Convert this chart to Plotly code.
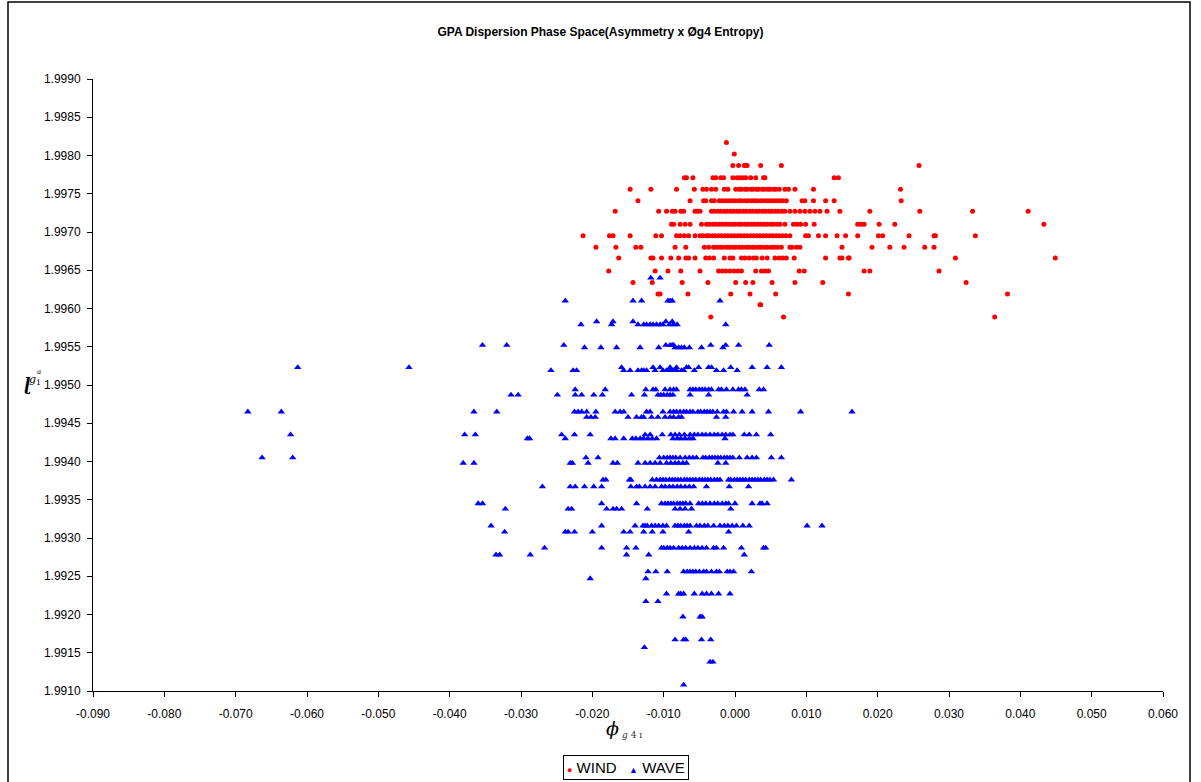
import plotly.graph_objects as go

# ---------------- data ----------------
wind_levels = [1.99817, 1.99802, 1.99787, 1.99771, 1.99756, 1.99741, 1.99727, 1.99710,
               1.99695, 1.99680, 1.99666, 1.99649, 1.99634, 1.99619, 1.99605, 1.99589]
wind_x_rows = [
    [-0.0012],
    [-0.0001],
    [-0.0003, 0.0005, 0.0013, 0.0015, 0.0017, 0.0036, 0.0065, 0.0258],
    [-0.0071, -0.0068, -0.0059, -0.0031, -0.0027, -0.0020, -0.0016, -0.0003, 0.0003, 0.0007,
     0.0011, 0.0015, 0.0022, 0.0029, 0.0040, 0.0042, 0.0139, 0.0145],
    [-0.0147, -0.0118, -0.0082, -0.0057, -0.0045, -0.0040, -0.0033, -0.0027, -0.0015, -0.0010,
     0.0001, 0.0006, 0.0009, 0.0014, 0.0017, 0.0022, 0.0025, 0.0030, 0.0033, 0.0038, 0.0041,
     0.0046, 0.0049, 0.0054, 0.0057, 0.0062, 0.0070, 0.0075, 0.0084, 0.0110, 0.0232],
    [-0.0136, -0.0063, -0.0044, -0.0041, -0.0033, -0.0029, -0.0022, -0.0018, -0.0013, -0.0009,
     -0.0004, 0.0000, 0.0005, 0.0009, 0.0014, 0.0018, 0.0023, 0.0027, 0.0031, 0.0036, 0.0040,
     0.0045, 0.0049, 0.0054, 0.0058, 0.0063, 0.0067, 0.0072, 0.0094, 0.0098, 0.0110, 0.0127,
     0.0139, 0.0233],
    [-0.0168, -0.0107, -0.0096, -0.0088, -0.0084, -0.0076, -0.0072, -0.0056, -0.0053, -0.0049,
     -0.0033, -0.0029, -0.0024, -0.0020, -0.0015, -0.0011, -0.0006, -0.0002, 0.0003, 0.0007,
     0.0012, 0.0016, 0.0021, 0.0025, 0.0030, 0.0034, 0.0039, 0.0043, 0.0048, 0.0052, 0.0057,
     0.0061, 0.0066, 0.0070, 0.0077, 0.0084, 0.0091, 0.0098, 0.0105, 0.0112, 0.0119, 0.0129,
     0.0147, 0.0189, 0.0259, 0.0333, 0.0411],
    [-0.0089, -0.0086, -0.0077, -0.0070, -0.0063, -0.0047, -0.0040, -0.0036, -0.0031, -0.0027,
     -0.0022, -0.0018, -0.0013, -0.0009, -0.0004, 0.0000, 0.0005, 0.0009, 0.0014, 0.0018,
     0.0023, 0.0027, 0.0032, 0.0036, 0.0041, 0.0045, 0.0050, 0.0054, 0.0059, 0.0063, 0.0070,
     0.0082, 0.0087, 0.0092, 0.0099, 0.0111, 0.0172, 0.0177, 0.0181, 0.0202, 0.0224, 0.0433],
    [-0.0213, -0.0176, -0.0171, -0.0147, -0.0111, -0.0103, -0.0082, -0.0077, -0.0071, -0.0065,
     -0.0056, -0.0049, -0.0045, -0.0040, -0.0037, -0.0032, -0.0028, -0.0023, -0.0019, -0.0014,
     -0.0010, -0.0005, -0.0001, 0.0004, 0.0008, 0.0013, 0.0017, 0.0022, 0.0026, 0.0031, 0.0035,
     0.0040, 0.0044, 0.0049, 0.0053, 0.0058, 0.0062, 0.0067, 0.0071, 0.0077, 0.0099, 0.0103,
     0.0117, 0.0127, 0.0143, 0.0155, 0.0172, 0.0201, 0.0207, 0.0244, 0.0279, 0.0281, 0.0337],
    [-0.0195, -0.0167, -0.0139, -0.0132, -0.0084, -0.0069, -0.0043, -0.0037, -0.0030, -0.0026,
     -0.0021, -0.0017, -0.0012, -0.0008, -0.0003, 0.0001, 0.0006, 0.0010, 0.0015, 0.0019,
     0.0024, 0.0028, 0.0033, 0.0037, 0.0042, 0.0046, 0.0051, 0.0055, 0.0060, 0.0065, 0.0077,
     0.0080, 0.0086, 0.0091, 0.0150, 0.0192, 0.0217, 0.0237, 0.0266, 0.0279],
    [-0.0163, -0.0118, -0.0115, -0.0103, -0.0090, -0.0079, -0.0069, -0.0065, -0.0056, -0.0041,
     -0.0036, -0.0030, -0.0015, -0.0007, -0.0003, 0.0009, 0.0014, 0.0020, 0.0026, 0.0030,
     0.0038, 0.0045, 0.0056, 0.0062, 0.0067, 0.0072, 0.0083, 0.0127, 0.0147, 0.0150, 0.0159,
     0.0160, 0.0309, 0.0449],
    [-0.0177, -0.0112, -0.0094, -0.0076, -0.0049, -0.0023, -0.0018, -0.0013, -0.0007, -0.0001,
     0.0004, 0.0009, 0.0029, 0.0037, 0.0042, 0.0047, 0.0090, 0.0097, 0.0181, 0.0189, 0.0286],
    [-0.0143, -0.0116, -0.0074, -0.0038, 0.0001, 0.0015, 0.0025, 0.0052, 0.0084, 0.0123, 0.0324],
    [-0.0108, -0.0105, -0.0066, -0.0006, 0.0021, 0.0057, 0.0159, 0.0382],
    [0.0035, 0.0036],
    [-0.0034, 0.0068, 0.0364],
]

wave_levels = [1.99640, 1.99610, 1.99583, 1.99579, 1.99552, 1.99549, 1.99523, 1.99519,
               1.99494, 1.99487, 1.99465, 1.99458, 1.99435, 1.99430, 1.99405, 1.99398,
               1.99376, 1.99367, 1.99345, 1.99338, 1.99316, 1.99308, 1.99287, 1.99278,
               1.99256, 1.99247, 1.99227, 1.99217, 1.99197, 1.99167, 1.99157, 1.99138, 1.99108]
wave_x_rows = [
    [-0.0118, -0.0105],
    [-0.0238, -0.0143, -0.0131, -0.0094, -0.0091, -0.0088, -0.0021],
    [-0.0194, -0.0171, -0.0143, -0.0097, -0.0088],
    [-0.0216, -0.0173, -0.0136, -0.0128, -0.0124, -0.0119, -0.0115, -0.0110, -0.0105, -0.0101,
     -0.0092, -0.0086, -0.0081, -0.0013],
    [-0.0354, -0.0320, -0.0240, -0.0097, -0.0091, -0.0088, -0.0086, -0.0034, -0.0013, 0.0005,
     0.0048],
    [-0.0211, -0.0188, -0.0166, -0.0133, -0.0107, -0.0084, -0.0079, -0.0075, -0.0071, -0.0064,
     -0.0047, -0.0017],
    [-0.0613, -0.0457, -0.0159, -0.0115, -0.0105, -0.0091, -0.0082, -0.0068, -0.0065, -0.0051,
     -0.0037, -0.0033, -0.0006, 0.0024, 0.0045, 0.0065],
    [-0.0258, -0.0227, -0.0222, -0.0156, -0.0147, -0.0136, -0.0131, -0.0128, -0.0124, -0.0112,
     -0.0101, -0.0096, -0.0091, -0.0086, -0.0082, -0.0075, -0.0072, -0.0057, -0.0026, -0.0016,
     0.0003],
    [-0.0224, -0.0182, -0.0125, -0.0115, -0.0111, -0.0098, -0.0091, -0.0086, -0.0082, -0.0063,
     -0.0059, -0.0055, -0.0050, -0.0046, -0.0042, -0.0037, -0.0033, -0.0023, -0.0019, -0.0012,
     -0.0003, 0.0005, 0.0009, 0.0014, 0.0034, 0.0040],
    [-0.0314, -0.0304, -0.0249, -0.0224, -0.0215, -0.0198, -0.0186, -0.0145, -0.0127, -0.0108,
     -0.0104, -0.0100, -0.0095, -0.0091, -0.0087, -0.0063, -0.0037, 0.0017],
    [-0.0683, -0.0636, -0.0366, -0.0334, -0.0225, -0.0220, -0.0215, -0.0208, -0.0195, -0.0168,
     -0.0161, -0.0156, -0.0124, -0.0119, -0.0101, -0.0091, -0.0086, -0.0082, -0.0077, -0.0072,
     -0.0068, -0.0063, -0.0059, -0.0052, -0.0048, -0.0043, -0.0039, -0.0035, -0.0031, -0.0025,
     -0.0016, -0.0012, -0.0002, 0.0010, 0.0024, 0.0047, 0.0092, 0.0164],
    [-0.0208, -0.0202, -0.0196, -0.0150, -0.0138, -0.0131, -0.0128, -0.0117, -0.0108, -0.0098,
     -0.0091, -0.0086, -0.0079, -0.0075, -0.0026, -0.0013],
    [-0.0623, -0.0379, -0.0364, -0.0243, -0.0225, -0.0203, -0.0126, -0.0119, -0.0102, -0.0090,
     -0.0084, -0.0078, -0.0071, -0.0063, -0.0057, -0.0052, -0.0046, -0.0041, -0.0035, -0.0029,
     -0.0024, -0.0018, -0.0013, -0.0007, -0.0003, 0.0013, 0.0020, 0.0030, 0.0050],
    [-0.0291, -0.0288, -0.0238, -0.0174, -0.0168, -0.0156, -0.0144, -0.0139, -0.0133, -0.0128,
     -0.0122, -0.0116, -0.0110, -0.0087, -0.0081, -0.0076, -0.0070, -0.0064, -0.0059, -0.0014],
    [-0.0663, -0.0620, -0.0209, -0.0192, -0.0106, -0.0100, -0.0095, -0.0091, -0.0087, -0.0083,
     -0.0077, -0.0070, -0.0064, -0.0059, -0.0054, -0.0045, -0.0041, -0.0036, -0.0032, -0.0028,
     -0.0024, -0.0020, -0.0015, -0.0011, -0.0007, -0.0003, 0.0006, 0.0017, 0.0024, 0.0030,
     0.0051, 0.0065],
    [-0.0381, -0.0366, -0.0231, -0.0228, -0.0206, -0.0171, -0.0165, -0.0136, -0.0126, -0.0119,
     -0.0112, -0.0105, -0.0096, -0.0090, -0.0084, -0.0079, -0.0073, -0.0068, -0.0024, -0.0013],
    [-0.0185, -0.0181, -0.0148, -0.0146, -0.0116, -0.0110, -0.0105, -0.0101, -0.0097, -0.0092,
     -0.0088, -0.0084, -0.0080, -0.0076, -0.0071, -0.0067, -0.0063, -0.0059, -0.0055, -0.0050,
     -0.0046, -0.0042, -0.0038, -0.0034, -0.0029, -0.0025, -0.0021, -0.0009, -0.0006, -0.0001,
     0.0003, 0.0007, 0.0011, 0.0015, 0.0020, 0.0024, 0.0028, 0.0032, 0.0036, 0.0041, 0.0045,
     0.0049, 0.0054, 0.0079],
    [-0.0270, -0.0231, -0.0224, -0.0211, -0.0198, -0.0187, -0.0146, -0.0138, -0.0134, -0.0126,
     -0.0119, -0.0112, -0.0103, -0.0098, -0.0092, -0.0087, -0.0081, -0.0076, -0.0070, -0.0064,
     -0.0058, -0.0040, -0.0008, 0.0019],
    [-0.0360, -0.0354, -0.0187, -0.0138, -0.0103, -0.0098, -0.0094, -0.0090, -0.0086, -0.0081,
     -0.0077, -0.0073, -0.0069, -0.0063, -0.0051, -0.0046, -0.0041, -0.0035, -0.0029, -0.0024,
     -0.0018, -0.0013, -0.0009, 0.0000, 0.0024, 0.0035, 0.0038, 0.0045],
    [-0.0322, -0.0234, -0.0229, -0.0180, -0.0171, -0.0166, -0.0159, -0.0123, -0.0084, -0.0077,
     -0.0070, -0.0061, -0.0006],
    [-0.0342, -0.0187, -0.0140, -0.0129, -0.0126, -0.0123, -0.0117, -0.0112, -0.0107, -0.0101,
     -0.0096, -0.0084, -0.0080, -0.0076, -0.0071, -0.0067, -0.0063, -0.0054, -0.0049, -0.0043,
     -0.0038, -0.0030, -0.0021, -0.0015, -0.0010, -0.0004, 0.0002, 0.0011, 0.0020, 0.0101,
     0.0122],
    [-0.0323, -0.0238, -0.0234, -0.0225, -0.0200, -0.0156, -0.0147, -0.0128, -0.0116, -0.0101,
     -0.0065, -0.0009],
    [-0.0267, -0.0187, -0.0152, -0.0139, -0.0103, -0.0100, -0.0095, -0.0091, -0.0086, -0.0079,
     -0.0074, -0.0069, -0.0063, -0.0057, -0.0052, -0.0046, -0.0040, -0.0030, -0.0026, -0.0016,
     0.0009, 0.0040, 0.0043],
    [-0.0335, -0.0330, -0.0287, -0.0152, -0.0121, 0.0013],
    [-0.0122, -0.0111, -0.0095, -0.0072, -0.0067, -0.0063, -0.0059, -0.0055, -0.0050, -0.0044,
     -0.0040, -0.0033, -0.0026, -0.0022, -0.0011, -0.0007, -0.0002, 0.0023],
    [-0.0203, -0.0125],
    [-0.0096, -0.0079, -0.0076, -0.0072, -0.0057, -0.0046, -0.0040, -0.0033, -0.0023, -0.0007],
    [-0.0125, -0.0108],
    [-0.0073, -0.0049, -0.0046],
    [-0.0084, -0.0072, -0.0069, -0.0047, -0.0034],
    [-0.0127],
    [-0.0035, -0.0031],
    [-0.0072],
]

x_tick_vals = [-0.09, -0.08, -0.07, -0.06, -0.05, -0.04, -0.03, -0.02, -0.01,
               0.0, 0.01, 0.02, 0.03, 0.04, 0.05, 0.06]
x_tick_text = ["-0.090", "-0.080", "-0.070", "-0.060", "-0.050", "-0.040", "-0.030", "-0.020",
               "-0.010", "0.000", "0.010", "0.020", "0.030", "0.040", "0.050", "0.060"]
y_tick_vals = [1.9910, 1.9915, 1.9920, 1.9925, 1.9930, 1.9935, 1.9940, 1.9945, 1.9950,
               1.9955, 1.9960, 1.9965, 1.9970, 1.9975, 1.9980, 1.9985, 1.9990]
y_tick_text = ["%.4f" % v for v in y_tick_vals]
series_names = ["WIND", "WAVE"]
series_colors = ["#FF0000", "#0000FF"]

# ---------------- flatten rows ----------------
wind_x, wind_y = [], []
for lvl, xs in zip(wind_levels, wind_x_rows):
    wind_x += xs
    wind_y += [lvl] * len(xs)
wave_x, wave_y = [], []
for lvl, xs in zip(wave_levels, wave_x_rows):
    wave_x += xs
    wave_y += [lvl] * len(xs)

FONT = "Arial, Liberation Sans, sans-serif"
W, H = 1201, 782
L, R, T, B = 93, 1163, 79, 691   # plot-area edges in pixels
PW, PH = R - L, B - T


def px(xp):
    return (xp - L) / PW


def py(yp):
    return (B - yp) / PH


fig = go.Figure()
fig.add_trace(go.Scatter(x=wind_x, y=wind_y, mode="markers", name=series_names[0],
                         marker=dict(symbol="circle", size=5, color=series_colors[0],
                                     line=dict(width=0))))
fig.add_trace(go.Scatter(x=wave_x, y=wave_y, mode="markers", name=series_names[1],
                         marker=dict(symbol="triangle-up", size=6.5, color=series_colors[1],
                                     line=dict(width=0))))

fig.update_layout(
    width=W, height=H,
    margin=dict(l=L, r=W - R, t=T, b=H - B, autoexpand=False),
    paper_bgcolor="white", plot_bgcolor="white",
    font=dict(family=FONT, size=12, color="black"),
    title=dict(text="<b>GPA Dispersion Phase Space(Asymmetry x Øg4 Entropy)</b>",
               x=0.5, xanchor="center", y=1 - 32 / H, yanchor="middle",
               font=dict(family=FONT, size=12, color="black")),
    showlegend=False,
    xaxis=dict(range=[-0.09, 0.06], tickvals=x_tick_vals, ticktext=x_tick_text,
               showgrid=False, zeroline=False, showline=True, linecolor="black", linewidth=1,
               ticks="outside", ticklen=5, tickcolor="black", automargin=False,
               ticklabelstandoff=7,
               tickfont=dict(family=FONT, size=12, color="black")),
    yaxis=dict(range=[1.9910, 1.9990], tickvals=y_tick_vals, ticktext=y_tick_text,
               showgrid=False, zeroline=False, showline=True, linecolor="black", linewidth=1,
               ticks="outside", ticklen=5, tickcolor="black", automargin=False,
               ticklabelstandoff=4,
               tickfont=dict(family=FONT, size=12, color="black")),
)

# x-axis title (symbol-style glyphs)
fig.add_annotation(xref="paper", yref="paper", x=px(612), y=py(728),
                   text="<i>ϕ</i>", showarrow=False, xanchor="center", yanchor="middle",
                   font=dict(family="DejaVu Serif", size=19, color="black"))
fig.add_annotation(xref="paper", yref="paper", x=px(620), y=py(735),
                   text="<i>g</i> 4 ı", showarrow=False, xanchor="left", yanchor="middle",
                   font=dict(family="DejaVu Serif", size=9, color="#333333"))
# y-axis title
fig.add_annotation(xref="paper", yref="paper", x=px(27), y=py(384),
                   text="<b><i>ɭ</i></b>", showarrow=False, xanchor="center", yanchor="middle",
                   font=dict(family="DejaVu Serif", size=16, color="black"))
fig.add_annotation(xref="paper", yref="paper", x=px(35), y=py(380),
                   text="<i>g</i><sub>1</sub>", showarrow=False, xanchor="center", yanchor="middle",
                   font=dict(family="DejaVu Serif", size=11, color="black"))
fig.add_annotation(xref="paper", yref="paper", x=px(39), y=py(372),
                   text="<i>a</i>", showarrow=False, xanchor="center", yanchor="middle",
                   font=dict(family="DejaVu Serif", size=7, color="black"))

# legend box (Excel style, compact)
legend_text = ("<span style='color:%s;font-size:9px'>●</span> %s   "
               "<span style='color:%s;font-size:9px'>▲</span> %s"
               % (series_colors[0], series_names[0], series_colors[1], series_names[1]))
fig.add_annotation(xref="paper", yref="paper", x=px(626), y=py(767),
                   text=legend_text, showarrow=False, xanchor="center", yanchor="middle",
                   font=dict(family=FONT, size=15, color="black"),
                   bordercolor="black", borderwidth=1, borderpad=3, bgcolor="white")

# outer chart frame
fig.add_shape(type="rect", xref="paper", yref="paper",
              x0=px(8), x1=px(1190), y0=py(800), y1=py(2),
              line=dict(color="black", width=1.5), fillcolor="rgba(0,0,0,0)", layer="below")

fig.write_html("out.html", config={"displayModeBar": False},
               post_script="document.body.style.margin='0px';")
